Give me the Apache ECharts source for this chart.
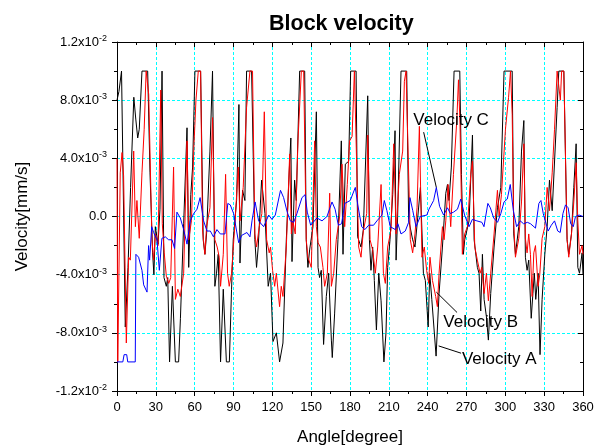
<!DOCTYPE html>
<html><head><meta charset="utf-8">
<script src="https://cdn.jsdelivr.net/npm/echarts@6/dist/echarts.min.js"></script>
<style>html,body{margin:0;padding:0;background:#fff}#c{width:605px;height:448px}</style>
</head><body><div id="c"></div>
<script>
// Angle in degrees; velocity in units of 1e-3 mm/s
const angleA = [0,1.5,3.5,4.5,6.4,8.5,10.5,13,14.5,16,17.2,19.3,23.7,25.5,27.5,28.5,29.6,31.7,33.2,34.8,36.3,38.1,39.2,40.6,42.8,45.1,47.6,49,51.5,54.1,55.4,57,58.4,60.2,64.6,66.6,67.9,69.2,71.8,73.8,75.6,76.9,78.2,80,82.1,84.5,86.8,88.5,89.8,92.4,94.2,95,97,98.8,100.1,104,106.5,107.8,109.1,111.7,114.3,116.8,118.6,120.5,123.1,125.6,128.2,130.8,133.4,134.3,135.2,137.2,138.5,141.1,145,146.2,147.5,148.8,151.4,154,155.3,156.5,157.8,159.6,161.7,163.5,165.6,166.3,168.1,170.7,173.3,174.6,176.4,179,180.5,184.7,185.9,188.5,190.3,193.7,195,196.2,197.5,198.8,200.4,202.2,204,206.2,207.8,209.1,210.9,213,214.8,215.6,216.8,219.4,223.8,225.3,228.4,230.2,232.3,234.4,236.7,238.2,240.4,241.6,243.2,246.5,248.8,251.4,254,255.3,256.5,258.3,260.4,264.8,266.1,267.6,268.6,272,274.6,275.9,278.4,279.7,281,282.3,283.6,285.4,286.9,288.7,291.3,293.9,296.5,299,305.3,306.5,307.8,310.4,312.5,314.3,315.5,316.8,318.1,320,321.3,322.4,323.5,325.3,326.8,328.4,330.5,332.3,334.1,336.2,340,341.3,345.2,347.7,349,351.1,352.9,354.7,356,357.3,359.3,360];
const velA = [8,8.6,10,10,-7.6,-3.5,2,8.2,6.7,5.4,6,10,10,3,-2.5,-4,-0.7,-1.9,0.5,10,-4.2,-4.8,-4.2,-10,-4.8,-10,-10,-7,-0.5,6.1,-3.5,1.5,3.4,10,10,-1.6,-2.6,-1.2,4.5,10,-4.8,-3.9,-2.6,-10,-5,-10,-10,-5,-1.6,1.1,7.7,-3.2,1.8,1.1,10,10,-1.6,-3.5,-2.1,2.5,0.2,-4.8,-3.9,-8.6,-8,-10,-8.7,-1.6,3.8,5.4,-3.1,2.5,1.1,10,10,-1.6,-3.5,-2.3,-0.7,7.2,-3.5,-4.2,-3.7,-8.8,-5.5,-3.9,-8.5,-9.7,-6.7,-1.6,5.2,-2.6,3.6,3.8,10,10,-1.4,-2.1,-0.9,8.3,-1.6,-3.7,-2.1,-4.4,-7.8,-3.9,-5.8,-10,-8,-3.5,-1.6,1.5,5.9,-3,0,10,10,-0.2,-1.6,-2.1,-0.1,2,-3.9,-4.4,-7.6,-3.9,-5.7,-9.6,-5.3,-2.1,1.6,2.2,1.1,3.4,10,10,2.9,-2.6,-1.6,-0.3,5.6,-1.6,-3.5,-3.9,-6.5,-2.6,-5.7,-6.9,-8.5,-5.3,-2.1,0.6,2,10,10,-1.2,-2.6,-0.7,4.5,6.6,-2.8,-3.7,-3,-7,-5.3,-3.9,-5.7,-3.9,-9.5,-5.7,-2.6,-0.7,2.5,0.4,7.5,10,10,-1.6,-2.6,-1.2,2,5,-3.5,-3.9,-2.5,-4];

const angleB = [0,0.6,2.5,3.9,5.1,7.2,9,10.3,12.9,14.2,15.4,17.2,19.3,21,22.5,23.7,24.5,27,28.3,29.6,31.7,33.8,35,36.5,38.1,40,41.5,43.7,45.1,47,48.9,51.5,54.1,55.4,57.5,59.5,61,62.8,64.6,66.1,67.9,69.2,71.8,73.8,75.6,77.4,79,80,82.1,83.9,85.4,86.7,88.5,91.1,93.7,95,97.5,100.1,102.7,104.7,106.5,107.8,109.9,111.9,113.8,115.6,117.6,118.6,120.2,121.8,123.1,125.6,126.9,128.2,130.8,133.4,134.7,135.9,137.7,139.8,142.4,144.2,146.2,147.5,150.1,152.7,154,155.3,157.1,159.1,160.4,162.5,164.3,165.6,167.4,169.4,172,173.8,175.9,177.9,179.7,181.6,183.4,184.7,186.7,188.5,190.3,192.9,193.7,195.5,197.5,199.6,201.4,204,205.8,207.3,209.1,211.7,213.8,215.6,218.1,220.7,222,223.3,224.6,226.6,228.4,230.2,231.8,233.6,235.6,237.4,239.2,240.8,241.8,243.7,246.2,247.5,248.8,251.4,252.7,254,255.8,257.8,259.9,262.5,263.8,265,266.8,268.6,270.7,273.3,274.6,276.4,278.4,280.5,281.8,283.6,285.4,286.9,288.7,291.3,293.9,295.2,297,300.1,302.5,304,305.3,306.5,307.8,310.4,312.5,314.3,315.5,316.8,318.1,319.4,320.7,322,323.3,325.3,326.6,328.4,330.5,332.3,334.1,336.2,338,340,341.3,342.5,343.5,345.2,346.5,347.7,349,351.1,352.9,354.7,356,357.3,359.3,360];
const velB = [4,-10,3,4.4,2.8,-8.7,-2.8,-3,4.5,-0.7,1.1,-1.5,3,6,10,10,8.4,-1.6,-3,-1.2,-2,8.7,-0.5,-2.5,-4.1,-4.6,-4.2,3.4,-5.7,-5,-5.5,-3.9,5.2,-1.6,-0.3,5,8,10,10,-1,-2.6,-0.7,0.6,6.8,-1.6,-2.1,-2.8,-4.8,-2.6,2.9,-3.9,-4.8,-3.9,-0.5,3.4,-0.3,2,7.5,10,10,-1.2,-2.1,-0.7,0.2,7.2,-1.6,-2.5,-2.1,-3.7,-4.8,-3.9,-6.2,-4.8,-5.5,-2.1,4.3,-1.2,-0.3,-1.2,5.2,10,10,-1.6,-2.8,-3.5,5.2,-0.7,-1.8,-2.1,-3.5,-4.8,-3.9,1.6,-4.8,-3.9,-1.6,0,3.6,-0.7,2.2,5.2,5.5,10,10,-2.1,-2.8,-1,0.2,5.6,-1.6,-2.3,-3.9,-2.1,2.2,-3.9,-4.6,-2.1,-0.9,5,-1.2,2.9,4.5,9.3,10,10,-1.6,-2.5,-1.2,0.6,6.2,-2.8,-2.1,-3.7,-4.6,-2.8,-4.4,-5.5,-6.2,-3.9,-0.7,-1.6,-0.3,2.2,-0.7,2.9,6.6,9.4,6.3,-2.6,-1.2,-0.7,2.9,3.8,-2.1,-3,-3.9,-3.5,-5.3,-3.9,-5.8,-3.9,-1.2,1.8,0,1.5,6,8.2,10,7,-0.5,-2.8,-1.5,1,5,-1.5,-2.5,-1.2,-2.6,-5.5,-2.5,-2,-4.8,-4,-1.5,-0.7,2,0.4,3,6,10,10,8,10,10,4,-1.6,-2.8,-1.2,1,3.7,-0.3,-2.6,-2,-2.6];

const angleC = [0,4.5,5.5,7.5,8.3,14.1,14.6,16.7,19.3,20.6,23.2,24.4,25.2,26.8,28.3,30.9,32.7,34.7,37.3,39.9,42.5,44.5,46.3,48.9,51.5,54.1,56.6,59.2,61.8,64.2,66.9,69.5,72.1,74.5,77.2,79.8,83.4,85.6,87.5,90.1,92.4,94,96.3,100.4,102.7,104.3,106.7,109.4,113.3,117.2,119.7,122.3,126.3,128.7,131.5,133.9,136.5,139,142.9,145.3,147,149.6,154.5,158.4,162.2,166.1,168.5,171,173.5,176,180.2,184.1,186,189,191.5,194.4,198.2,200.8,204.7,206.5,208.5,211.1,215,217,219.4,222.7,225.3,226.3,228.5,231,234.3,239.4,241,244.6,246.7,249.2,252.3,255.3,257.5,260,263,265.6,268.5,272,274.5,278,281.9,283.5,286.5,288.4,291,294,296.5,299,301.5,303.8,306.2,308.7,311.5,314.1,317,319.5,323.3,325.9,327.5,329.3,333.1,335.5,338,340.5,342.4,344.5,346.5,348.5,350.5,352.5,354.2,357,360];
const velC = [-10,-10,-9.5,-9.5,-10,-10,-2.6,-2.8,-3.7,-4.7,-5.2,-2,-3,-0.7,-1.1,-1.6,-3.7,-1.5,-1.4,-1.6,-1.6,-2.2,0.3,-0.1,-0.9,-1.9,-0.3,0.2,0.5,1.3,-0.3,-1,-1,-1.4,-0.9,-1.2,-1.2,0.9,0.8,0.2,-1,-1.8,-1.3,-1.1,-1.4,-0.3,1,-0.3,-0.7,0.1,-0.2,0.1,1.8,1.3,0.3,-0.3,-0.4,0.2,1.3,1.5,0.3,-0.6,-0.1,-0.3,0,1,0.5,-0.6,-0.5,0.9,1.1,2,0.8,-0.7,-0.9,-0.6,-0.6,-0.3,0.1,1.1,0.4,-0.7,-0.9,-0.5,-1.2,-1,-0.4,1.3,0.4,-0.7,0,0.1,0.5,1.1,2,0.7,0.1,0.6,0.2,0.3,0.5,1.2,0.1,-0.7,-0.2,-0.3,-0.4,-0.7,0.9,0.6,-0.1,-0.4,0.2,1,1.2,2.2,0.4,-0.7,-0.3,-0.5,-0.4,-0.5,-0.8,0.9,1.1,0.2,-1,-0.6,-0.3,-1,-1.1,0.2,0.8,0.6,-0.5,-0.7,0,0.1,0];

const xTickStep = 30;
const yTickValues = [-12,-8,-4,0,4,8,12];
const yTickMantissa = ['-1.2x10','-8.0x10','-4.0x10','0.0','4.0x10','8.0x10','1.2x10'];
const yTickExponent = ['-2','-3','-3','','-3','-3','-2'];

const annotations = [
  {text:'Velocity C', at:[228.9, 6.6], from:[236.9, 5.8], to:[246.7, 2.0]},
  {text:'Velocity B', at:[252.1, -7.3], from:[262.7, -6.6], to:[246.7, -5.2]},
  {text:'Velocity A', at:[266.5, -9.8], from:[265.8, -9.4], to:[248.5, -8.9]}
];

const FONT = 'Liberation Sans, Arial, sans-serif';
function pairs(a, v){ return a.map((x,i)=>[x, v[i]]); }

const chart = echarts.init(document.getElementById('c'), null, {renderer:'canvas'});
const gridLine = {show:true, lineStyle:{color:'#00FFFF', type:[3,2], width:1}};
const baseX = {type:'value', min:0, max:360, interval:xTickStep};
const baseY = {type:'value', min:-12, max:12, interval:4};
chart.setOption({
  animation:false,
  backgroundColor:'#fff',
  title:{text:'Block velocity', left:264, top:8, textStyle:{fontFamily:FONT, fontSize:21.5, fontWeight:'bold', color:'#000'}},
  grid:{left:117, right:22, top:42, bottom:57, outerBoundsMode:'none', containLabel:false},
  xAxis:[
    Object.assign({}, baseX, {position:'bottom', name:'Angle[degree]', nameLocation:'middle', nameGap:38,
      nameTextStyle:{fontFamily:FONT, fontSize:17, color:'#000'},
      axisLine:{show:true, onZero:false, lineStyle:{color:'#000', width:1}},
      axisTick:{show:true, inside:false, length:5, lineStyle:{color:'#000'}},
      minorTick:{show:true, splitNumber:2, length:3, lineStyle:{color:'#000'}},
      axisLabel:{show:true, margin:10, fontFamily:FONT, fontSize:13, color:'#000'},
      splitLine:gridLine}),
    Object.assign({}, baseX, {position:'top',
      axisLine:{show:true, onZero:false, lineStyle:{color:'#000', width:1}},
      axisTick:{show:true, inside:true, length:5, lineStyle:{color:'#000'}},
      minorTick:{show:true, splitNumber:2, length:3, lineStyle:{color:'#000'}},
      axisLabel:{show:false}, splitLine:{show:false}})
  ],
  yAxis:[
    Object.assign({}, baseY, {position:'left', name:'Velocity[mm/s]', nameLocation:'middle', nameGap:86,
      nameTextStyle:{fontFamily:FONT, fontSize:17, color:'#000'},
      axisLine:{show:true, onZero:false, lineStyle:{color:'#000', width:1}},
      axisTick:{show:true, inside:false, length:5, lineStyle:{color:'#000'}},
      minorTick:{show:true, splitNumber:2, length:3, lineStyle:{color:'#000'}},
      axisLabel:{show:true, margin:10, color:'#000',
        formatter:function(v){
          const i = yTickValues.indexOf(Math.round(v));
          if (i < 0) return '';
          return yTickExponent[i] ? '{m|'+yTickMantissa[i]+'}{e|'+yTickExponent[i]+'}' : '{m|'+yTickMantissa[i]+'}';
        },
        rich:{m:{fontFamily:FONT, fontSize:13, color:'#000', lineHeight:16},
              e:{fontFamily:FONT, fontSize:9, color:'#000', lineHeight:16, verticalAlign:'top'}}},
      splitLine:gridLine}),
    Object.assign({}, baseY, {position:'right',
      axisLine:{show:true, onZero:false, lineStyle:{color:'#000', width:1}},
      axisTick:{show:true, inside:true, length:5, lineStyle:{color:'#000'}},
      minorTick:{show:true, splitNumber:2, length:3, lineStyle:{color:'#000'}},
      axisLabel:{show:false}, splitLine:{show:false}})
  ],
  series:[
    {name:'Velocity A', type:'line', data:pairs(angleA, velA), showSymbol:false, symbol:'none', lineStyle:{color:'#000', width:1}, itemStyle:{color:'#000'}, z:2},
    {name:'Velocity B', type:'line', data:pairs(angleB, velB), showSymbol:false, symbol:'none', lineStyle:{color:'#FF0000', width:1}, itemStyle:{color:'#FF0000'}, z:3},
    {name:'Velocity C', type:'line', data:pairs(angleC, velC), showSymbol:false, symbol:'none', lineStyle:{color:'#0000FF', width:1}, itemStyle:{color:'#0000FF'}, z:4}
  ]
});

const g = [];
annotations.forEach(function(a){
  const p = chart.convertToPixel({gridIndex:0}, a.at);
  const f = chart.convertToPixel({gridIndex:0}, a.from);
  const t = chart.convertToPixel({gridIndex:0}, a.to);
  g.push({type:'line', shape:{x1:f[0], y1:f[1], x2:t[0], y2:t[1]}, style:{stroke:'#000', lineWidth:1}, z:100});
  g.push({type:'text', x:p[0], y:p[1], style:{text:a.text, fill:'#000', font:'17px '+FONT, textAlign:'left', textVerticalAlign:'middle'}, z:100});
});
chart.setOption({graphic:g});
</script>
</body></html>
